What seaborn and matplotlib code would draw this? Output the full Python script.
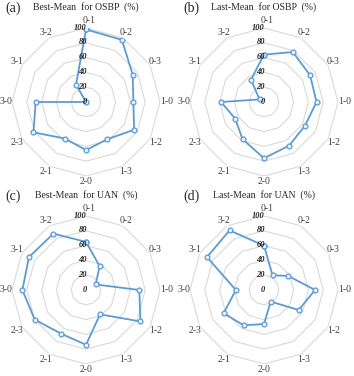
import numpy as np
import pandas as pd
import seaborn as sns
import matplotlib
matplotlib.use("Agg")
import matplotlib.pyplot as plt
from matplotlib.transforms import ScaledTranslation

# categorias (sentido horario desde arriba)
categorias = ["0-1", "0-2", "0-3", "1-0", "1-2", "1-3",
              "2-0", "2-1", "2-3", "3-0", "3-1", "3-2"]

best_osbp = [98, 97, 73, 64, 75, 58, 65, 57, 82, 68, 0, 27]
last_osbp = [64, 78, 72, 71, 64, 68, 76, 58, 45, 58, 7, 35]
best_uan = [65, 37, 15, 72, 85, 38, 74, 68, 80, 86, 89, 88]
last_uan = [60, 23, 38, 69, 54, 18, 46, 55, 63, 38, 89, 93]

letras = ["(a)", "(b)", "(c)", "(d)"]
titulos = ["Best-Mean  for OSBP  (%)", "Last-Mean  for OSBP  (%)",
           "Best-Mean  for UAN  (%)", "Last-Mean  for UAN  (%)"]
series = [best_osbp, last_osbp, best_uan, last_uan]
niveles = [0, 20, 40, 60, 80, 100]

sns.set_style("white")
plt.rcParams["font.family"] = ["Liberation Serif", "DejaVu Serif"]

W, H = 354, 376
fig = plt.figure(figsize=(W / 100, H / 100), dpi=100)

# centros de cada radar en pixeles (x, y desde arriba) y radio
centros = [(86, 102), (264, 102), (86, 290), (264, 290)]
R = 74
azul = "#5B9BD5"

n = len(categorias)
angulos = np.arange(n) * 2 * np.pi / n

for k in range(4):
    cx, cy = centros[k]
    ax = fig.add_axes([(cx - R) / W, (H - cy - R) / H, 2 * R / W, 2 * R / H],
                      projection="polar")
    ax.set_theta_zero_location("N")
    ax.set_theta_direction(-1)
    ax.set_xticks([])
    ax.set_yticks([])
    ax.grid(False)
    ax.spines["polar"].set_visible(False)
    ax.patch.set_alpha(0)

    # anillos poligonales
    th = np.append(angulos, angulos[0])
    for nv in niveles[1:]:
        ax.plot(th, [nv] * len(th), color="#D9D9D9", lw=0.8, zorder=1)

    df = pd.DataFrame({"angulo": np.append(angulos, 2 * np.pi),
                       "valor": series[k] + [series[k][0]]})
    sns.lineplot(data=df, x="angulo", y="valor", ax=ax, sort=False,
                 color=azul, lw=1.3, marker="o", markersize=3.5,
                 markerfacecolor="#EAF1FA", markeredgecolor=azul,
                 markeredgewidth=0.9, zorder=3)
    ax.set_xlabel("")
    ax.set_ylabel("")

    # etiquetas de categorias
    for a, c in zip(angulos, categorias):
        r_lab = 107.5 + abs(np.sin(a))
        dx = 0
        if c == "0-1":
            r_lab = 110
            dx = 3
        ax.text(a, r_lab, c, ha="center", va="center",
                fontsize=7, color="#404040", clip_on=False,
                transform=ax.transData + ScaledTranslation(
                    dx / 100, 0, fig.dpi_scale_trans))

    # etiquetas radiales
    desplaza = ax.transData + ScaledTranslation(1 / 100, 0.5 / 100,
                                                fig.dpi_scale_trans)
    for nv in niveles:
        ax.text(0, nv, str(nv), ha="right", va="center", fontsize=6,
                fontweight="bold", fontstyle="italic", color="#262626",
                transform=desplaza, zorder=4)

    ax.set_ylim(0, 100)

    # titulo y letra del panel
    fig.text((cx - 81) / W, 1 - (cy - 94) / H, letras[k], fontsize=10,
             ha="left", va="center")
    fig.text(cx / W, 1 - (cy - 95) / H, titulos[k], fontsize=7,
             ha="center", va="center")

fig.savefig("out.png", dpi=100)
